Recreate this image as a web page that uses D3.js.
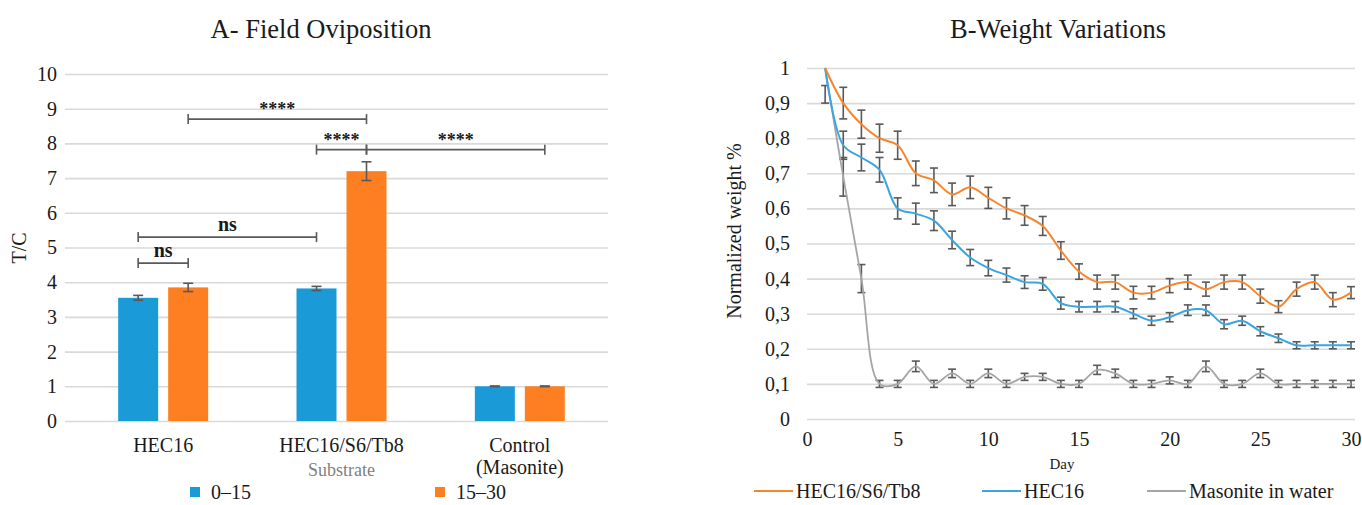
<!DOCTYPE html>
<html>
<head>
<meta charset="utf-8">
<script src="https://cdn.jsdelivr.net/npm/d3@7"></script>
<style>
  html, body { margin: 0; padding: 0; background: #ffffff; }
  svg text { font-family: "Liberation Serif", "Times New Roman", serif; }
</style>
</head>
<body>
<svg id="chart" width="1362" height="505"></svg>
<script>
// ---------- Panel A data ----------
const categories = ["HEC16", "HEC16/S6/Tb8", "Control"];
const periods = ["0–15", "15–30"];
const values015 = [3.55, 3.82, 1.0];
const values1530 = [3.85, 7.2, 1.0];
const err015 = [0.07, 0.06, 0.01];
const err1530 = [0.12, 0.27, 0.01];
const yTicksA = [0, 1, 2, 3, 4, 5, 6, 7, 8, 9, 10];
// significance brackets: [category index, period index] from/to, height, label
const bracketFrom = [[0, 1], [1, 0], [1, 1], [0, 0], [0, 0]];
const bracketTo = [[1, 1], [1, 1], [2, 1], [1, 0], [0, 1]];
const bracketY = [8.7, 7.82, 7.82, 5.3, 4.55];
const bracketLabel = ["****", "****", "****", "ns", "ns"];

// ---------- Panel B data ----------
const days = d3.range(1, 31);
const hecS6 = [1.0, 0.9, 0.84, 0.8, 0.78, 0.7, 0.68, 0.64, 0.66, 0.63, 0.6, 0.58, 0.55, 0.48, 0.42,
               0.39, 0.39, 0.36, 0.36, 0.38, 0.39, 0.37, 0.39, 0.39, 0.35, 0.32, 0.37, 0.39, 0.34, 0.36];
const hecS6Err = [0, 0.045, 0.04, 0.04, 0.04, 0.035, 0.035, 0.032, 0.032, 0.03, 0.03, 0.028, 0.027, 0.025, 0.022,
                  0.02, 0.02, 0.018, 0.018, 0.02, 0.02, 0.02, 0.02, 0.02, 0.02, 0.017, 0.02, 0.02, 0.02, 0.017];
const hec16 = [1.0, 0.78, 0.745, 0.71, 0.6, 0.585, 0.565, 0.51, 0.46, 0.43, 0.41, 0.39, 0.385, 0.33, 0.32,
               0.32, 0.32, 0.3, 0.28, 0.29, 0.31, 0.31, 0.27, 0.28, 0.25, 0.23, 0.21, 0.21, 0.21, 0.21];
const hec16Err = [0, 0.04, 0.038, 0.035, 0.03, 0.03, 0.028, 0.025, 0.023, 0.022, 0.02, 0.018, 0.018, 0.017, 0.015,
                  0.015, 0.015, 0.014, 0.013, 0.013, 0.015, 0.015, 0.013, 0.013, 0.013, 0.012, 0.01, 0.01, 0.01, 0.01];
const masonite = [1.0, 0.69, 0.4, 0.1, 0.1, 0.15, 0.1, 0.13, 0.1, 0.13, 0.1, 0.12, 0.12, 0.1, 0.1,
                  0.14, 0.13, 0.1, 0.1, 0.11, 0.1, 0.15, 0.1, 0.1, 0.13, 0.1, 0.1, 0.1, 0.1, 0.1];
const masoniteErr = [0, 0.055, 0.04, 0.01, 0.01, 0.015, 0.01, 0.012, 0.01, 0.012, 0.01, 0.01, 0.01, 0.01, 0.01,
                     0.013, 0.012, 0.01, 0.01, 0.01, 0.01, 0.015, 0.01, 0.01, 0.012, 0.01, 0.01, 0.01, 0.01, 0.01];
const extraBarDay = [1];
const extraBarLow = [0.9];
const extraBarHigh = [0.95];
const seriesNames = ["HEC16/S6/Tb8", "HEC16", "Masonite in water"];
const yTicksB = [0, 0.1, 0.2, 0.3, 0.4, 0.5, 0.6, 0.7, 0.8, 0.9, 1];
const xTicksB = [0, 5, 10, 15, 20, 25, 30];

// ---------- styling ----------
const SERIF = "'Liberation Serif', 'Times New Roman', serif";
const BLUE = "#1a9ad6";
const ORANGE = "#fd7f22";
const LBLUE = "#3aa5de";
const LORANGE = "#f7852d";
const LGRAY = "#a5a5a5";
const GRID = "#d9d9d9";
const ERR = "#595959";
const TXT = "#1a1a1a";

const svg = d3.select("#chart").attr("font-family", SERIF);

// ===================== Panel A =====================
const gA = svg.append("g");
const yA = d3.scaleLinear().domain([0, 10]).range([421, 74]);
const xA = d3.scaleBand().domain(categories).range([74, 609]);
const subX = d3.scaleOrdinal().domain(periods).range([-25, 25]);
const barW = 40;

// gridlines + tick labels via axis
const axA = gA.append("g").attr("transform", "translate(65,0)")
  .call(d3.axisLeft(yA).tickValues(yTicksA).tickSize(-543).tickFormat(d3.format("d")));
axA.attr("font-family", SERIF);
axA.select(".domain").remove();
axA.selectAll(".tick line").attr("stroke", GRID).attr("stroke-width", 1.6);
axA.selectAll(".tick text").attr("x", -8).attr("fill", TXT)
  .style("font-size", "20px").style("font-family", SERIF);

const barData = [];
categories.forEach((c, i) => {
  barData.push({ cat: c, p: periods[0], v: values015[i], e: err015[i], color: BLUE });
  barData.push({ cat: c, p: periods[1], v: values1530[i], e: err1530[i], color: ORANGE });
});
const cx = (c, p) => xA(c) + xA.bandwidth() / 2 + subX(p);

gA.selectAll("rect.bar").data(barData).join("rect")
  .attr("class", "bar")
  .attr("x", d => cx(d.cat, d.p) - barW / 2)
  .attr("y", d => yA(d.v))
  .attr("width", barW)
  .attr("height", d => yA(0) - yA(d.v))
  .attr("fill", d => d.color);

// error bars
const eb = gA.selectAll("g.eb").data(barData).join("g").attr("class", "eb")
  .attr("stroke", ERR).attr("stroke-width", 1.6).attr("fill", "none");
eb.append("line").attr("x1", d => cx(d.cat, d.p)).attr("x2", d => cx(d.cat, d.p))
  .attr("y1", d => yA(d.v - d.e)).attr("y2", d => yA(d.v + d.e));
eb.append("line").attr("x1", d => cx(d.cat, d.p) - 5).attr("x2", d => cx(d.cat, d.p) + 5)
  .attr("y1", d => yA(d.v - d.e)).attr("y2", d => yA(d.v - d.e));
eb.append("line").attr("x1", d => cx(d.cat, d.p) - 5).attr("x2", d => cx(d.cat, d.p) + 5)
  .attr("y1", d => yA(d.v + d.e)).attr("y2", d => yA(d.v + d.e));

// significance brackets
const brackets = bracketLabel.map((l, i) => ({
  x1: cx(categories[bracketFrom[i][0]], periods[bracketFrom[i][1]]),
  x2: cx(categories[bracketTo[i][0]], periods[bracketTo[i][1]]),
  y: yA(bracketY[i]), label: l
}));
const br = gA.selectAll("g.br").data(brackets).join("g").attr("class", "br");
br.append("line").attr("x1", d => d.x1).attr("x2", d => d.x2).attr("y1", d => d.y).attr("y2", d => d.y)
  .attr("stroke", ERR).attr("stroke-width", 1.6);
br.append("line").attr("x1", d => d.x1).attr("x2", d => d.x1).attr("y1", d => d.y - 5).attr("y2", d => d.y + 5)
  .attr("stroke", ERR).attr("stroke-width", 1.6);
br.append("line").attr("x1", d => d.x2).attr("x2", d => d.x2).attr("y1", d => d.y - 5).attr("y2", d => d.y + 5)
  .attr("stroke", ERR).attr("stroke-width", 1.6);
br.append("text").attr("x", d => (d.x1 + d.x2) / 2)
  .attr("y", d => d.label === "ns" ? d.y - 6 : d.y - 4)
  .attr("text-anchor", "middle").attr("fill", TXT)
  .style("font-family", SERIF)
  .style("font-size", d => d.label === "ns" ? "20px" : "18px")
  .style("font-weight", "bold")
  .text(d => d.label);

// category labels
const catLabels = [["HEC16"], ["HEC16/S6/Tb8"], ["Control", "(Masonite)"]];
categories.forEach((c, i) => {
  const t = gA.append("text").attr("x", xA(c) + xA.bandwidth() / 2).attr("y", 452)
    .attr("text-anchor", "middle").attr("fill", TXT)
    .style("font-family", SERIF).style("font-size", "20px");
  catLabels[i].forEach((s, j) => t.append("tspan").attr("x", xA(c) + xA.bandwidth() / 2)
    .attr("dy", j === 0 ? 0 : 22).text(s));
});
gA.append("text").attr("x", xA("HEC16/S6/Tb8") + xA.bandwidth() / 2).attr("y", 476)
  .attr("text-anchor", "middle").attr("fill", "#7f7f7f")
  .style("font-family", SERIF).style("font-size", "18px").text("Substrate");

// axis title
gA.append("text").attr("transform", "translate(26,248) rotate(-90)")
  .attr("text-anchor", "middle").attr("fill", TXT)
  .style("font-family", SERIF).style("font-size", "20px").text("T/C");

// title
gA.append("text").attr("x", 321).attr("y", 38).attr("text-anchor", "middle").attr("fill", TXT)
  .style("font-family", SERIF).style("font-size", "26.5px").text("A- Field Oviposition");

// legend
const legA = gA.selectAll("g.legA").data(periods).join("g").attr("class", "legA")
  .attr("transform", (d, i) => `translate(${[190, 435][i]},492)`);
legA.append("rect").attr("x", 0).attr("y", -5).attr("width", 10).attr("height", 10)
  .attr("fill", (d, i) => [BLUE, ORANGE][i]);
legA.append("text").attr("x", 21).attr("y", 7).attr("fill", TXT)
  .style("font-family", SERIF).style("font-size", "20px").text(d => d);

// ===================== Panel B =====================
const gB = svg.append("g");
const xB = d3.scaleLinear().domain([0, 30]).range([807, 1351]);
const yB = d3.scaleLinear().domain([0, 1]).range([419, 68]);

const axBy = gB.append("g").attr("transform", "translate(807,0)")
  .call(d3.axisLeft(yB).tickValues(yTicksB).tickSize(-548)
    .tickFormat(d => d === 0 ? "0" : d === 1 ? "1" : d3.format(".1f")(d).replace(".", ",")));
axBy.attr("font-family", SERIF);
axBy.select(".domain").remove();
axBy.selectAll(".tick line").attr("stroke", GRID).attr("stroke-width", 1.6);
axBy.selectAll(".tick text").attr("x", -17).attr("fill", TXT)
  .style("font-size", "20px").style("font-family", SERIF);

const axBx = gB.append("g").attr("transform", "translate(0,419)")
  .call(d3.axisBottom(xB).tickValues(xTicksB).tickSize(0).tickPadding(13));
axBx.attr("font-family", SERIF);
axBx.select(".domain").remove();
axBx.selectAll(".tick text").attr("fill", TXT)
  .style("font-size", "20px").style("font-family", SERIF);

gB.append("text").attr("x", 1062).attr("y", 469).attr("text-anchor", "middle").attr("fill", TXT)
  .style("font-family", SERIF).style("font-size", "15px").text("Day");
gB.append("text").attr("transform", "translate(741,231) rotate(-90)")
  .attr("text-anchor", "middle").attr("fill", TXT)
  .style("font-family", SERIF).style("font-size", "20px").text("Normalized weight %");
gB.append("text").attr("x", 1058).attr("y", 38).attr("text-anchor", "middle").attr("fill", TXT)
  .style("font-family", SERIF).style("font-size", "26.5px").text("B-Weight Variations");

const seriesB = [
  { name: seriesNames[0], vals: hecS6, errs: hecS6Err, color: LORANGE, w: 2 },
  { name: seriesNames[1], vals: hec16, errs: hec16Err, color: LBLUE, w: 2 },
  { name: seriesNames[2], vals: masonite, errs: masoniteErr, color: LGRAY, w: 1.8 }
];
const line = d3.line().x((d, i) => xB(days[i])).y(d => yB(d)).curve(d3.curveCatmullRom.alpha(0.5));

// error bars (drawn beneath lines)
const ebB = gB.append("g").attr("stroke", ERR).attr("stroke-width", 1.6);
seriesB.slice().reverse().forEach(s => {
  s.vals.forEach((v, i) => {
    const e = s.errs[i];
    if (e <= 0) return;
    const x = xB(days[i]);
    ebB.append("line").attr("x1", x).attr("x2", x).attr("y1", yB(v - e)).attr("y2", yB(v + e));
    ebB.append("line").attr("x1", x - 4).attr("x2", x + 4).attr("y1", yB(v - e)).attr("y2", yB(v - e));
    ebB.append("line").attr("x1", x - 4).attr("x2", x + 4).attr("y1", yB(v + e)).attr("y2", yB(v + e));
  });
});
extraBarDay.forEach((d, i) => {
  const x = xB(d);
  ebB.append("line").attr("x1", x).attr("x2", x).attr("y1", yB(extraBarLow[i])).attr("y2", yB(extraBarHigh[i]));
  ebB.append("line").attr("x1", x - 4).attr("x2", x + 4).attr("y1", yB(extraBarLow[i])).attr("y2", yB(extraBarLow[i]));
  ebB.append("line").attr("x1", x - 4).attr("x2", x + 4).attr("y1", yB(extraBarHigh[i])).attr("y2", yB(extraBarHigh[i]));
});

seriesB.slice().reverse().forEach(s => {
  gB.append("path").attr("d", line(s.vals)).attr("fill", "none")
    .attr("stroke", s.color).attr("stroke-width", s.w);
});

// legend B
const legBx = [754, 982, 1147];
const legB = gB.selectAll("g.legB").data(seriesB).join("g").attr("class", "legB")
  .attr("transform", (d, i) => `translate(${legBx[i]},491)`);
legB.append("line").attr("x1", 0).attr("x2", 39).attr("y1", 0).attr("y2", 0)
  .attr("stroke", d => d.color).attr("stroke-width", 2);
legB.append("text").attr("x", 42).attr("y", 7).attr("fill", TXT)
  .style("font-family", SERIF).style("font-size", "20px").text(d => d.name);
</script>
</body>
</html>
